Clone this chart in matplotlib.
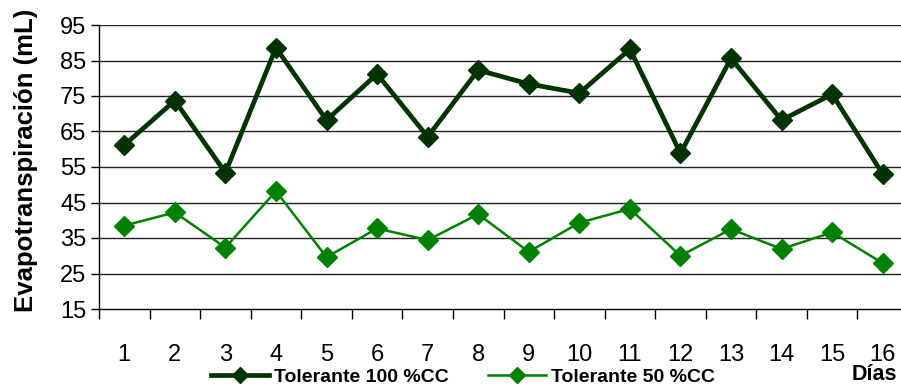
import numpy as np
import matplotlib
matplotlib.use("Agg")
import matplotlib.pyplot as plt

plt.rcParams['font.family'] = ['Liberation Sans', 'DejaVu Sans']

# días de medición
dias = list(range(1, 17))
tol_100 = [61.2, 73.7, 53.4, 88.6, 68.2, 81.2, 63.5, 82.3, 78.4, 75.8, 88.2, 58.9, 85.6, 68.2, 75.5, 53.0]
tol_50 = [38.5, 42.2, 32.3, 48.2, 29.6, 37.7, 34.4, 41.7, 31.1, 39.3, 43.2, 30.0, 37.5, 31.9, 36.6, 27.9]
yticks = [15, 25, 35, 45, 55, 65, 75, 85, 95]

W, H = 901, 387
fig = plt.figure(figsize=(W / 100, H / 100), dpi=100)
ax = fig.add_axes([99 / W, 1 - 309 / H, (908 - 99) / W, (309 - 25) / H])

ax.plot(dias, tol_100, color='#003300', lw=3.4, marker='D', ms=10.5, label='Tolerante 100 %CC', zorder=3)
ax.plot(dias, tol_50, color='#008000', lw=1.8, marker='D', ms=10.5, label='Tolerante 50 %CC', zorder=3)

ax.set_xlim(0.5, 16.5)
ax.set_ylim(15, 95)
ax.set_yticks(yticks)
for y in yticks[1:]:
    ax.axhline(y, color='#222222', lw=1.0, zorder=1)

# marcas entre categorías
ax.set_xticks(np.arange(0.5, 16.5, 1.0))
ax.set_xticklabels([])
ax.set_xticks(dias, minor=True)
ax.set_xticklabels([str(d) for d in dias], minor=True, fontsize=17)
ax.tick_params(axis='x', which='major', length=7, width=1, direction='out')
ax.tick_params(axis='x', which='minor', length=0, pad=25)
ax.tick_params(axis='y', length=6, width=1, labelsize=17, pad=3)

for s in ['top', 'right']:
    ax.spines[s].set_visible(False)
ax.spines['left'].set_linewidth(1)
ax.spines['bottom'].set_linewidth(1)

fig.text(26 / W, 1 - 160 / H, 'Evapotranspiración (mL)', rotation=90, fontsize=18.5,
         fontweight='bold', ha='center', va='center')
fig.text(897 / W, 1 - 375 / H, 'Días', fontsize=15.5, fontweight='bold', ha='right', va='center')

fig.legend(loc='center', bbox_to_anchor=(463 / W, 1 - 377 / H), ncol=2, frameon=False,
           prop={'weight': 'bold', 'size': 14}, handlelength=3.0, columnspacing=2.0,
           handletextpad=0.25, borderaxespad=0, markerscale=0.75)

fig.savefig('out.png', dpi=100)
